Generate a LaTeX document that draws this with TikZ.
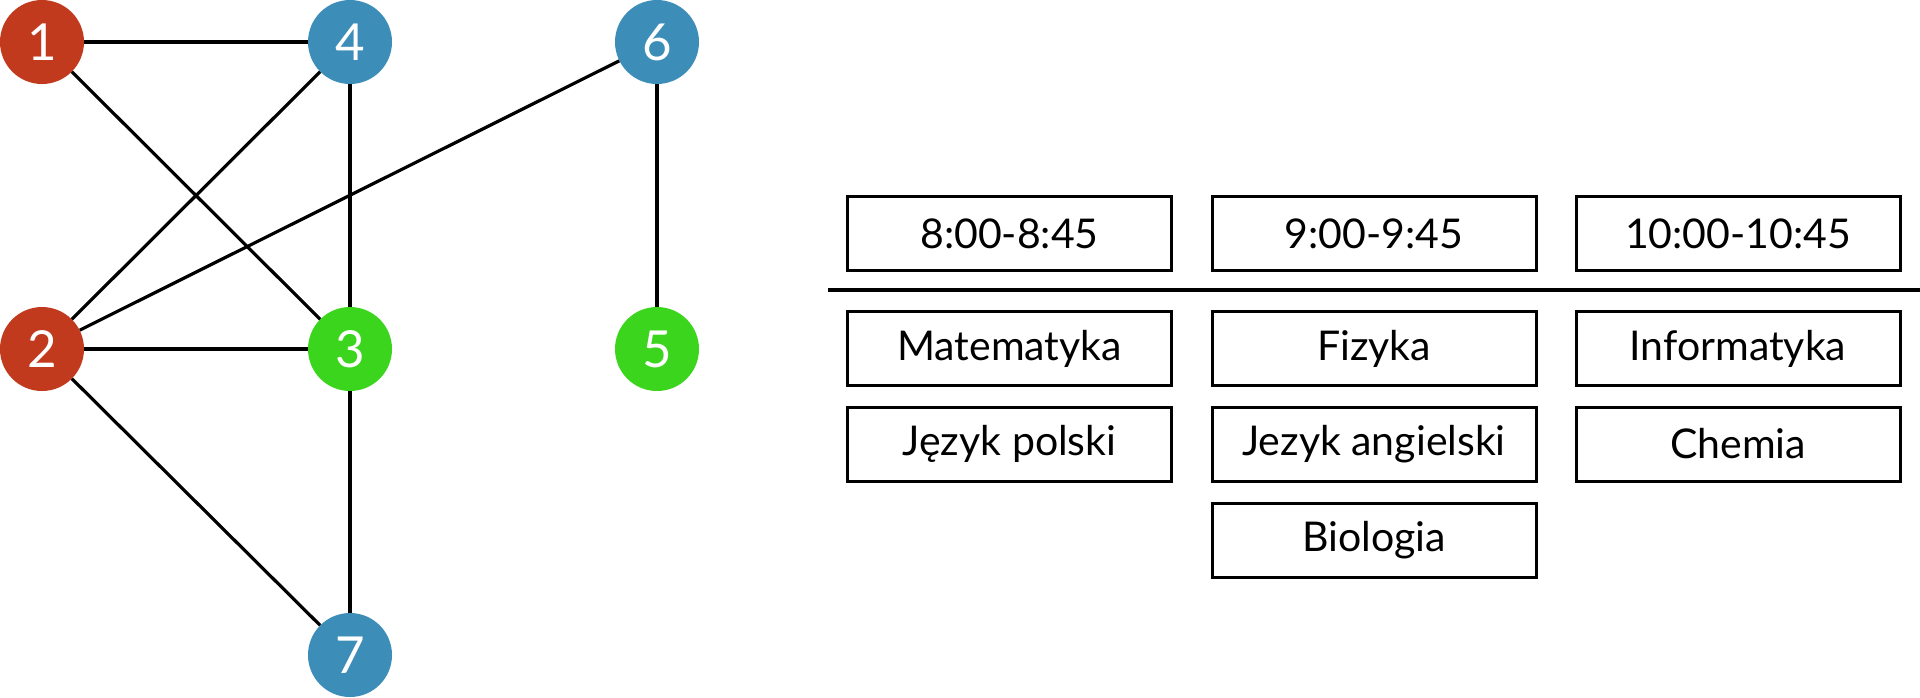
\documentclass[tikz,border=0pt]{standalone}
\usepackage{fontspec}
\setmainfont{Lato}
\definecolor{cred}{RGB}{193,58,30}
\definecolor{cblue}{RGB}{60,142,184}
\definecolor{cgreen}{RGB}{59,213,29}
\begin{document}
\begin{tikzpicture}[x=1pt,y=-1pt,
  vtx/.style={circle,minimum size=84pt,inner sep=0pt,text=white,font=\fontsize{51}{51}\selectfont},
  edge/.style={line width=3.2pt,black},
  slot/.style={draw=black,line width=3pt,minimum width=324pt,minimum height=74pt,inner sep=0pt,font=\fontsize{41}{41}\selectfont}]
\useasboundingbox (0,0) rectangle (1920,697);
\node[vtx,fill=cred]   (n1) at (42,42) {1};
\node[vtx,fill=cblue]  (n4) at (350,42) {4};
\node[vtx,fill=cblue]  (n6) at (657,42) {6};
\node[vtx,fill=cred]   (n2) at (42,349) {2};
\node[vtx,fill=cgreen] (n3) at (350,349) {3};
\node[vtx,fill=cgreen] (n5) at (657,349) {5};
\node[vtx,fill=cblue]  (n7) at (350,655) {7};
\draw[edge] (n1) -- (n4);
\draw[edge] (n1) -- (n3);
\draw[edge] (n4) -- (n2);
\draw[edge] (n4) -- (n3);
\draw[edge] (n6) -- (n2);
\draw[edge] (n6) -- (n5);
\draw[edge] (n2) -- (n3);
\draw[edge] (n2) -- (n7);
\draw[edge] (n3) -- (n7);
\node[slot] (h1) at (1009.5,233.5) {8:00-8:45};
\node[slot] (h2) at (1374,233.5) {9:00-9:45};
\node[slot] (h3) at (1738,233.5) {10:00-10:45};
\coordinate (la) at (828,290);
\coordinate (lb) at (1920,290);
\draw[line width=4.2pt] (la) -- (lb);
\node[slot] (a1) at (1009.5,348.5) {Matematyka};
\node[slot] (a2) at (1009.5,444) {Język polski};
\node[slot] (b1) at (1374,348.5) {Fizyka};
\node[slot] (b2) at (1374,444) {Jezyk angielski};
\node[slot] (b3) at (1374,540) {Biologia};
\node[slot] (c1) at (1738,348.5) {Informatyka};
\node[slot] (c2) at (1738,444) {Chemia};
\end{tikzpicture}
\end{document}
